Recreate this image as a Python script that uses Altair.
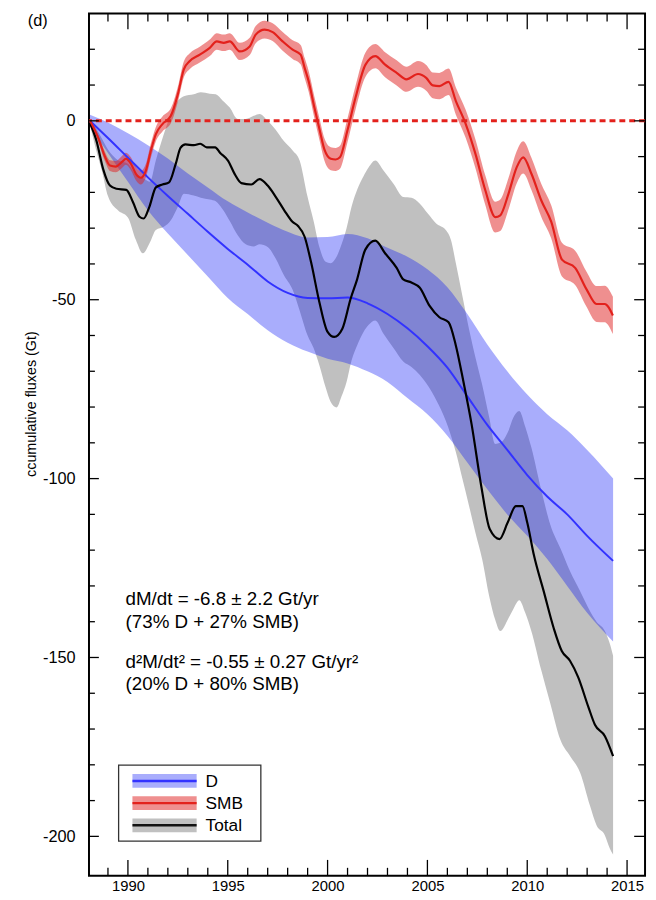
import altair as alt
import pandas as pd

# ---------------- data ----------------
# D (discharge) cumulative flux: central line and band edges
D_YEARS = [1988.1, 1989, 1990, 1991, 1992, 1993, 1994, 1995, 1996, 1997, 1998, 1999, 2000,
           2001, 2002, 2003, 2004, 2005, 2006, 2007, 2008, 2009, 2010, 2011, 2012, 2013, 2014.3]
D_MID = [0, -4.8, -10.3, -15.8, -21, -26, -31, -35.8, -40.2, -44.9, -48.1, -49.5, -49.6,
         -49.4, -51, -54, -58, -63, -69, -77, -85, -92, -99, -105, -110, -116, -123]
D_HI = [1.7, -0.5, -3.5, -6.8, -10.5, -14.7, -18.6, -22.5, -25.6, -28.5, -31, -32.6, -32.5,
        -31.6, -32.8, -35.5, -38, -41.5, -46.5, -54, -62.5, -70, -76.5, -82, -86.5, -92, -100]
D_LO = [-1.5, -9, -17, -25, -31.5, -37.5, -43.5, -49.5, -54, -58.5, -62, -64.5, -66.5,
        -67.8, -70, -73, -77.5, -82, -88, -95.5, -103, -110, -116, -122.5, -130, -137.5, -145.5]

# SMB cumulative flux and its uncertainty
SMB_YEARS = [1988.10, 1988.50, 1988.85, 1989.10, 1989.40, 1989.70, 1989.90, 1990.15, 1990.40, 1990.65,
             1990.90, 1991.15, 1991.40, 1991.73, 1992.15, 1992.50, 1992.80, 1993.10, 1993.60, 1994.10,
             1994.45, 1994.80, 1995.10, 1995.60, 1996.10, 1996.40, 1996.85, 1997.25, 1997.75, 1998.25,
             1998.65, 1998.85, 1999.05, 1999.34, 1999.60, 1999.84, 2000.16, 2000.40, 2000.62, 2000.99,
             2001.40, 2001.90, 2002.39, 2002.88, 2003.46, 2003.95, 2004.53, 2004.94, 2005.27, 2005.60,
             2006.06, 2006.42, 2006.92, 2007.41, 2007.90, 2008.40, 2008.65, 2009.06, 2009.47, 2009.80,
             2010.21, 2010.70, 2011.20, 2011.74, 2012.40, 2012.97, 2013.47, 2013.88, 2014.29]
SMB = [0.0, -4.6, -10.0, -12.5, -12.8, -11.5, -10.6, -12.0, -14.8, -15.9,
       -13.9, -8.3, -3.7, -0.9, 1.4, 7.4, 14.4, 16.7, 18.5, 20.4,
       22.2, 21.8, 22.2, 19.4, 20.8, 24.1, 25.5, 24.8, 22.2, 19.9,
       18.5, 14.8, 11.1, 3.7, -2.5, -8.0, -10.6, -10.8, -10.2, -2.8,
       6.5, 15.7, 18.1, 15.7, 13.4, 11.6, 13.1, 12.0, 9.9, 9.7,
       10.9, 5.6, -0.9, -9.3, -19.4, -26.9, -26.4, -20.4, -13.0, -10.2,
       -14.8, -22.2, -28.2, -38.8, -41.1, -47.1, -51.2, -51.2, -54.4]
SMB_ERR = [0.3, 0.9, 1.3, 1.5, 1.6, 1.7, 1.7, 1.8, 1.8, 1.9,
           1.9, 2.0, 2.0, 2.1, 2.1, 2.1, 2.2, 2.2, 2.2, 2.3,
           2.3, 2.3, 2.3, 2.4, 2.4, 2.4, 2.5, 2.5, 2.6, 2.6,
           2.7, 2.8, 2.9, 3.0, 3.0, 3.1, 3.2, 3.2, 3.2, 3.3,
           3.3, 3.4, 3.4, 3.5, 3.5, 3.5, 3.6, 3.6, 3.6, 3.7,
           3.7, 3.8, 3.9, 4.0, 4.1, 4.3, 4.4, 4.4, 4.5, 4.5,
           4.5, 4.6, 4.6, 4.7, 4.8, 4.9, 5.0, 5.1, 5.2]

# Total cumulative flux (black line)
TOT_YEARS = [1988.10, 1988.43, 1988.76, 1989.10, 1989.42, 1989.92, 1990.25, 1990.58, 1990.79, 1991.07,
             1991.40, 1991.73, 1992.06, 1992.39, 1992.64, 1992.88, 1993.30, 1993.62, 1993.95, 1994.37,
             1994.61, 1995.02, 1995.35, 1995.68, 1996.18, 1996.59, 1997.00, 1997.41, 1997.83, 1998.24,
             1998.52, 1998.85, 1999.18, 1999.59, 2000.00, 2000.33, 2000.74, 2001.15, 2001.48, 2001.89,
             2002.39, 2002.88, 2003.46, 2003.79, 2004.20, 2004.61, 2005.11, 2005.60, 2006.06, 2006.42,
             2006.80, 2007.21, 2007.70, 2008.12, 2008.61, 2009.02, 2009.43, 2009.76, 2010.00, 2010.33,
             2010.83, 2011.32, 2011.73, 2012.14, 2012.55, 2013.06, 2013.39, 2013.89, 2014.30]
TOT = [-0.6, -5.7, -13.5, -18.1, -19.0, -19.3, -22.7, -26.8, -27.3, -24.1,
       -18.6, -17.8, -17.2, -12.1, -7.5, -6.6, -6.8, -6.4, -7.4, -7.4,
       -8.9, -11.2, -14.9, -17.4, -17.8, -16.3, -18.1, -21.3, -25.0, -28.2,
       -29.4, -32.4, -39.7, -50.7, -59.0, -60.4, -58.1, -49.8, -44.3, -36.0,
       -33.5, -37.0, -41.1, -44.3, -45.2, -46.6, -51.7, -54.9, -56.3, -62.7,
       -72.8, -84.7, -102.2, -114.1, -116.9, -112.3, -107.7, -107.7, -112.3, -121.3,
       -131.6, -141.7, -148.2, -150.9, -155.5, -163.8, -168.8, -172.0, -177.6]

# Total uncertainty envelope (grey)
TB_YEARS = [1988.10, 1988.40, 1988.70, 1989.00, 1989.50, 1990.00, 1990.40, 1990.75, 1991.10, 1991.40,
            1991.80, 1992.15, 1992.50, 1992.80, 1993.30, 1993.65, 1994.10, 1994.40, 1994.75, 1995.10,
            1995.50, 1995.90, 1996.30, 1996.60, 1997.00, 1997.40, 1997.80, 1998.25, 1998.60, 1999.00,
            1999.30, 1999.60, 1999.90, 2000.15, 2000.45, 2000.70, 2000.95, 2001.20, 2001.50, 2001.80,
            2002.06, 2002.39, 2002.80, 2003.30, 2003.79, 2004.20, 2004.61, 2005.02, 2005.44, 2005.93,
            2006.18, 2006.42, 2006.75, 2007.08, 2007.40, 2007.74, 2008.10, 2008.40, 2008.65, 2009.06,
            2009.30, 2009.60, 2009.90, 2010.20, 2010.70, 2011.16, 2011.66, 2012.15, 2012.65, 2013.14,
            2013.47, 2013.88, 2014.13, 2014.30]
TB_HI = [0.5, -2.0, -5.0, -8.0, -11.0, -12.0, -15.0, -16.0, -17.0, -11.0,
         -3.7, 1.9, 5.6, 6.9, 7.4, 8.0, 7.6, 7.4, 5.6, 3.7,
         0.5, 0.5, 1.4, 1.9, 0.0, -2.5, -5.6, -8.3, -11.1, -21.3,
         -28.0, -35.5, -39.4, -39.8, -38.0, -34.5, -30.0, -24.0, -19.0, -15.5,
         -13.0, -11.1, -13.9, -17.6, -21.3, -21.5, -23.1, -25.9, -28.7, -30.6,
         -33.3, -39.7, -48.9, -58.1, -66.0, -73.7, -83.0, -90.3, -90.0, -86.6,
         -83.0, -81.1, -85.5, -91.2, -103.1, -113.0, -119.5, -126.0, -131.5, -137.0,
         -140.0, -142.5, -146.0, -149.5]
TB_LO = [-1.0, -8.0, -14.0, -21.0, -25.0, -27.0, -33.3, -37.0, -34.0, -30.5,
         -29.6, -27.8, -24.0, -20.4, -20.9, -21.5, -22.0, -22.5, -24.8, -28.0,
         -32.0, -34.5, -35.1, -34.5, -35.3, -38.5, -43.0, -47.2, -53.0, -60.0,
         -63.5, -68.5, -74.5, -78.5, -80.1, -77.0, -73.0, -67.0, -62.5, -59.0,
         -57.0, -55.8, -59.5, -63.5, -67.3, -68.8, -71.0, -74.0, -78.0, -84.0,
         -88.0, -92.5, -100.0, -107.5, -115.0, -122.5, -133.0, -139.5, -142.6, -139.0,
         -136.5, -134.0, -137.5, -142.5, -153.5, -162.9, -173.0, -177.6, -182.2, -191.4,
         -196.9, -199.6, -203.3, -205.1]

X_LABELS = [1990, 1995, 2000, 2005, 2010, 2015]
X_MINOR = [1989, 1991, 1992, 1993, 1994, 1996, 1997, 1998, 1999, 2001, 2002, 2003, 2004,
           2006, 2007, 2008, 2009, 2011, 2012, 2013, 2014]
Y_LABELS = [-200, -150, -100, -50, 0]
Y_MINOR = [-190, -180, -170, -160, -140, -130, -120, -110, -90, -80, -70, -60,
           -40, -30, -20, -10, 10, 20]

LEGEND_LABELS = ["D", "SMB", "Total"]
ANNOT = ["dM/dt = -6.8 \u00b1 2.2 Gt/yr", "(73% D + 27% SMB)",
         "d\u00b2M/dt\u00b2 = -0.55 \u00b1 0.27 Gt/yr\u00b2", "(20% D + 80% SMB)"]
Y_TITLE = "ccumulative fluxes (Gt)"
PANEL = "(d)"

# ---------------- build ----------------
W, H = 563, 873
FONT = "Liberation Sans"
BLUE_BAND, BLUE_OP, BLUE_LINE = "#0a14f5", 0.35, "#3232ff"
RED_BAND, RED_OP, RED_LINE = "#df1f1f", 0.5, "#e3211c"
GREY = "#c0c0c0"

xs = alt.Scale(domain=[1988.05, 2015.9], nice=False, zero=False)
ys = alt.Scale(domain=[-211, 30], nice=False, zero=False)

d_df = pd.DataFrame({"year": D_YEARS, "mid": D_MID, "lo": D_LO, "hi": D_HI})
s_df = pd.DataFrame({"year": SMB_YEARS, "mid": SMB, "err": SMB_ERR})
s_df["lo"] = s_df["mid"] - s_df["err"]
s_df["hi"] = s_df["mid"] + s_df["err"]
t_df = pd.DataFrame({"year": TOT_YEARS, "mid": TOT})
tb_df = pd.DataFrame({"year": TB_YEARS, "lo": TB_LO, "hi": TB_HI})

x_axis = alt.Axis(values=X_LABELS, ticks=False, domain=False, grid=False, labelFontSize=15,
                  labelPadding=3, labelColor="black", labelFlush=False, format="d", title=None,
                  labelFont=FONT)
y_axis = alt.Axis(values=Y_LABELS, ticks=False, domain=False, grid=False, labelFontSize=16.5,
                  labelPadding=14, labelColor="black", labelExpr="'' + datum.value",
                  title=Y_TITLE, titleFontSize=14.5, titleFontWeight="normal", titleColor="black",
                  titleX=-51, titleY=395, labelFont=FONT, titleFont=FONT)


def X():
    return alt.X("year:Q", scale=xs, axis=x_axis)


def Y(field):
    return alt.Y(f"{field}:Q", scale=ys, axis=y_axis)


layers = []
layers.append(alt.Chart(tb_df).mark_area(color=GREY, interpolate="monotone").encode(
    x=X(), y=Y("lo"), y2="hi:Q"))
layers.append(alt.Chart(d_df).mark_area(color=BLUE_BAND, opacity=BLUE_OP, interpolate="monotone").encode(
    x=X(), y=Y("lo"), y2="hi:Q"))
layers.append(alt.Chart(s_df).mark_area(color=RED_BAND, opacity=RED_OP, interpolate="monotone").encode(
    x=X(), y=Y("lo"), y2="hi:Q"))
layers.append(alt.Chart(pd.DataFrame({"lo": [0]})).mark_rule(
    color=RED_LINE, strokeWidth=3, strokeDash=[6, 4]).encode(y=Y("lo")))
layers.append(alt.Chart(d_df).mark_line(color=BLUE_LINE, strokeWidth=2, interpolate="monotone").encode(
    x=X(), y=Y("mid")))
layers.append(alt.Chart(t_df).mark_line(color="black", strokeWidth=2.2, interpolate="monotone").encode(
    x=X(), y=Y("mid")))
layers.append(alt.Chart(s_df).mark_line(color=RED_LINE, strokeWidth=2.2, interpolate="monotone").encode(
    x=X(), y=Y("mid")))

# inward ticks on all four sides
for vals, ln in ((X_LABELS, 16), (X_MINOR, 8)):
    df = pd.DataFrame({"year": vals})
    layers.append(alt.Chart(df).mark_rule(color="black", strokeWidth=1.3).encode(
        x=X(), y=alt.value(H), y2=alt.value(H - ln)))
    layers.append(alt.Chart(df).mark_rule(color="black", strokeWidth=1.3).encode(
        x=X(), y=alt.value(0), y2=alt.value(ln)))
for vals, ln in ((Y_LABELS, 10), (Y_MINOR, 6)):
    df = pd.DataFrame({"lo": vals})
    layers.append(alt.Chart(df).mark_rule(color="black", strokeWidth=1.3).encode(
        y=Y("lo"), x=alt.value(0), x2=alt.value(ln)))
    layers.append(alt.Chart(df).mark_rule(color="black", strokeWidth=1.3).encode(
        y=Y("lo"), x=alt.value(W), x2=alt.value(W - ln - 1)))

# custom legend
one = pd.DataFrame({"a": [0]})
layers.append(alt.Chart(one).mark_rect(fill="white", stroke="#333333", strokeWidth=1.3).encode(
    x=alt.value(30), x2=alt.value(174), y=alt.value(761), y2=alt.value(838)))
legend_style = [(BLUE_BAND, BLUE_OP, BLUE_LINE), (RED_BAND, RED_OP, RED_LINE), (GREY, 1.0, "#111111")]
for i, (lab, (bc, bo, lc)) in enumerate(zip(LEGEND_LABELS, legend_style)):
    cy = 777 + i * 22.5
    layers.append(alt.Chart(one).mark_rect(color=bc, opacity=bo).encode(
        x=alt.value(44), x2=alt.value(109), y=alt.value(cy - 7), y2=alt.value(cy + 7)))
    layers.append(alt.Chart(one).mark_rule(color=lc, strokeWidth=2.5).encode(
        x=alt.value(44), x2=alt.value(109), y=alt.value(cy)))
    layers.append(alt.Chart(one).mark_text(text=lab, align="left", baseline="middle", fontSize=17.5,
                                           font=FONT, color="black").encode(
        x=alt.value(118), y=alt.value(cy + 1)))

# annotations
for txt, by in zip(ANNOT, [599, 622, 663, 685]):
    layers.append(alt.Chart(one).mark_text(text=txt, align="left", baseline="alphabetic", fontSize=19,
                                           font=FONT, color="black").encode(
        x=alt.value(37), y=alt.value(by)))
layers.append(alt.Chart(one).mark_text(text=PANEL, align="left", baseline="middle", fontSize=16.5,
                                       font=FONT, color="black").encode(
    x=alt.value(-62), y=alt.value(8)))

chart = alt.layer(*layers).properties(
    width=W, height=H, autosize="none",
    padding={"left": 82, "top": 0, "right": 3, "bottom": 18},
).configure(font=FONT, view=alt.ViewConfig(stroke="black", strokeWidth=2))

chart.save("out.html", embed_options={"renderer": "svg", "actions": False})
